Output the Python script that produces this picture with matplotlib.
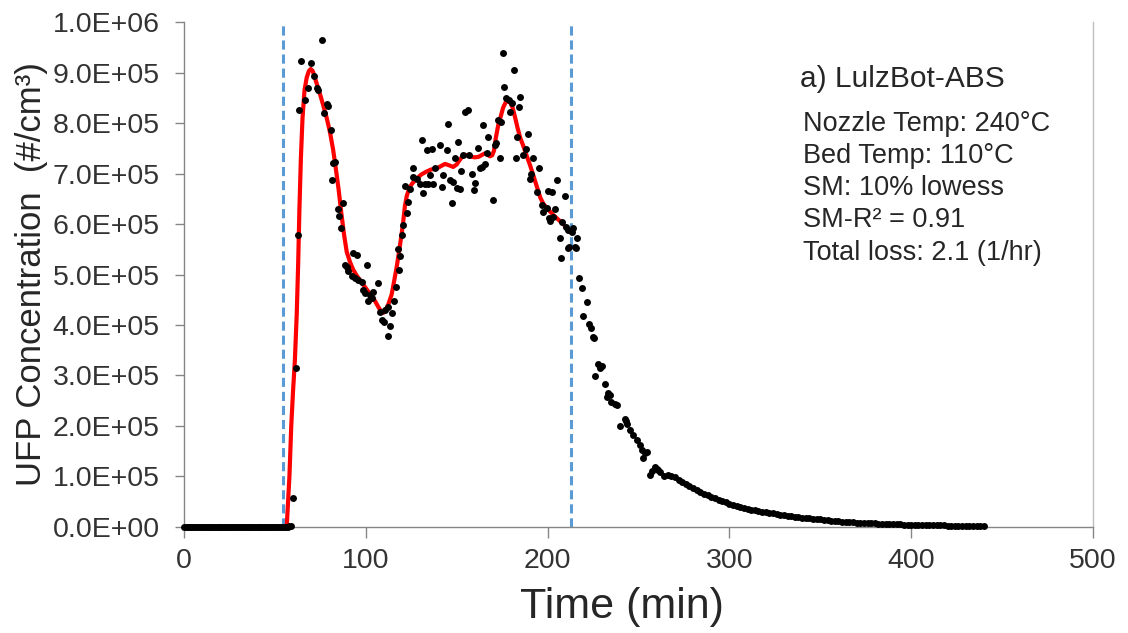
import numpy as np
import matplotlib
matplotlib.use('Agg')
import matplotlib.pyplot as plt
from matplotlib.ticker import FuncFormatter

plt.rcParams['font.family'] = ['Liberation Sans', 'DejaVu Sans']

# measured UFP concentration (units of 1e5 #/cm3) vs time (min)
base_t = [0, 1, 2, 3, 4, 5, 6, 7, 8, 9, 10, 11, 12, 13, 14, 15, 16, 17, 18, 19,
          20, 21, 22, 23, 24, 25, 26, 27, 28, 29, 30, 31, 32, 33, 34, 35, 36, 37, 38, 39,
          40, 41, 42, 43, 44, 45, 46, 47, 48, 49, 50, 51, 52, 53, 54, 55, 56, 57, 58, 59]
base_c = [0, 0, 0, 0, 0, 0, 0, 0, 0, 0, 0, 0, 0, 0, 0, 0, 0, 0, 0, 0,
          0, 0, 0, 0, 0, 0, 0, 0, 0, 0, 0, 0, 0, 0, 0, 0, 0, 0, 0, 0,
          0, 0, 0, 0, 0, 0, 0, 0, 0, 0, 0, 0, 0, 0, 0, 0, 0, 0, 0.01, 0.02]

print_t = [60.1, 61.4, 62.5, 63.4, 64.4, 66.6, 68.0, 69.7, 71.7, 73.0, 73.9, 75.7, 77.0, 78.5,
           79.4, 80.7, 81.6, 82.1, 83.0, 84.5, 85.4, 86.4, 87.6, 88.6, 89.5, 90.4, 92.2, 93.1,
           94.0, 95.0, 95.9, 97.7, 98.6, 99.6, 100.8, 101.4, 102.3, 103.2, 104.1, 106.9, 107.8,
           108.7, 110.2, 110.6, 112.0, 112.4, 113.3, 114.2, 115.7, 116.5, 117.5, 118.4, 118.8,
           120.0, 120.7, 121.6, 122.5, 123.4, 124.3, 125.8, 126.2, 128.0, 129.8, 130.7, 131.6,
           132.6, 133.5, 134.4, 135.3, 136.2, 137.1, 138.1, 140.8, 141.7, 142.6, 144.5, 145.4,
           146.3, 147.2, 148.1, 149.1, 150.0, 150.9, 151.8, 152.4, 153.6, 154.6, 156.4, 156.9,
           158.2, 159.5, 160.1, 161.9, 162.8, 163.7, 164.3, 165.6, 166.5, 167.4, 169.8, 171.0,
           171.6, 172.9, 173.8, 174.3, 175.6, 176.1, 177.1, 179.0, 179.5, 180.3, 181.7, 182.6,
           183.3, 184.4, 184.8, 186.6, 188.1, 189.4, 190.3, 190.9, 192.1, 194.0, 195.4, 196.8,
           197.7, 199.5, 200.4, 200.9, 201.3, 202.3, 203.1, 204.1, 205.3, 206.8, 207.2, 207.8,
           209.6, 210.1, 211.0, 211.4, 212.0, 213.3, 214.2, 215.1, 215.6, 216.2]
print_c = [0.57, 3.14, 5.78, 8.25, 9.23, 8.45, 8.70, 9.19, 8.94, 8.70, 8.65, 9.65, 8.19, 8.38,
           8.34, 7.87, 6.87, 7.21, 7.23, 6.29, 6.16, 5.93, 6.41, 5.19, 5.15, 5.06, 4.97, 5.42,
           4.94, 5.39, 4.89, 4.86, 4.69, 4.63, 5.19, 4.48, 4.59, 4.53, 4.66, 4.83, 4.26,
           4.10, 4.05, 4.30, 3.79, 4.35, 3.98, 4.23, 4.48, 4.76, 5.50, 5.09, 5.37,
           5.78, 5.98, 6.76, 6.21, 6.44, 6.69, 7.10, 6.94, 6.90, 6.80, 7.66, 6.61,
           6.80, 7.47, 6.79, 6.97, 7.48, 6.79, 7.10, 7.56, 6.74, 6.97, 7.47, 7.99,
           6.87, 6.41, 6.84, 7.30, 6.71, 7.63, 6.69, 7.04, 7.37, 8.22, 8.26, 7.37,
           6.99, 6.67, 6.81, 7.50, 7.10, 7.13, 7.97, 7.19, 7.40, 7.72, 6.48, 7.56,
           7.61, 8.06, 7.30, 8.03, 9.39, 8.72, 8.49, 8.46, 8.22, 8.40, 9.05, 7.30,
           7.73, 8.32, 8.52, 7.37, 7.48, 7.78, 6.90, 7.00, 7.30, 6.64, 7.10, 6.38,
           6.24, 6.31, 6.65, 6.11, 6.05, 6.64, 6.14, 6.29, 6.88, 5.72, 5.32, 6.03,
           6.56, 5.95, 5.52, 5.89, 5.55, 5.85, 5.92, 5.54, 5.52, 5.72]

decay_t = [217.5, 218.7, 219.6, 221.5, 222.9, 223.6, 224.8, 225.7, 226.1, 227.9, 228.8, 229.7,
           231.6, 232.5, 233.4, 234.3, 235.1, 237.1, 238.3, 239.8, 242.6, 243.1, 243.9, 245.3,
           247.2, 249.0, 250.8, 251.7, 252.6, 253.6, 254.5, 256.3, 257.5, 259.1, 260.0, 260.9,
           262, 264, 266, 268, 270, 272, 274, 276, 278, 280, 282, 284, 286, 288, 290, 292,
           294, 296, 298, 300, 302, 304, 306, 308, 310, 312, 314, 316, 318, 320, 322, 324,
           326, 328, 330, 332, 334, 336, 338, 340, 342, 344, 346, 348, 350, 352, 354, 356,
           358, 360, 362, 364, 366, 368, 370, 372, 374, 376, 378, 380, 382, 384, 386, 388,
           390, 392, 394, 396, 398, 400, 402, 404, 406, 408, 410, 412, 414, 416, 418, 420,
           422, 424, 426, 428, 430, 432, 434, 436, 438, 440]
decay_c = [4.94, 4.73, 4.18, 4.46, 4.02, 3.95, 3.77, 3.74, 2.98, 3.23, 3.14, 3.19,
           2.83, 2.58, 2.65, 2.61, 2.48, 2.44, 2.41, 1.99, 2.13, 2.09, 2.03, 1.92,
           1.82, 1.72, 1.62, 1.52, 1.36, 1.46, 1.49, 1.03, 1.10, 1.18, 1.15, 1.13,
           1.08, 1.01, 1.02, 1.00, 0.98, 0.94, 0.90, 0.85, 0.81, 0.77, 0.73, 0.70, 0.66, 0.63, 0.60, 0.57,
           0.54, 0.51, 0.49, 0.46, 0.44, 0.42, 0.40, 0.38, 0.36, 0.34, 0.33, 0.31, 0.30, 0.29, 0.28, 0.27,
           0.25, 0.24, 0.23, 0.22, 0.21, 0.20, 0.19, 0.18, 0.17, 0.18, 0.16, 0.15, 0.15, 0.14, 0.13, 0.12,
           0.11, 0.11, 0.10, 0.10, 0.09, 0.09, 0.08, 0.08, 0.08, 0.07, 0.07, 0.07, 0.06, 0.06, 0.06, 0.05,
           0.05, 0.05, 0.05, 0.04, 0.04, 0.04, 0.04, 0.04, 0.03, 0.03, 0.03, 0.03, 0.03, 0.03, 0.03, 0.02,
           0.02, 0.02, 0.02, 0.02, 0.02, 0.02, 0.02, 0.02, 0.02, 0.02]

# 10% lowess smooth
sm_t = [56.5, 58, 59, 60, 61, 62, 62.8, 63.5, 64.3, 65.2, 66.3, 67.5, 68.7, 69.7, 70.8, 72,
        73.5, 75, 76.6, 78.5, 80.3, 82, 83.5, 85, 86.6, 88, 89.5, 91.3, 93, 95, 97, 99, 101,
        103.2, 105, 107, 108.5, 109.7, 111, 112.5, 114.2, 115.5, 117, 118.5, 119.7, 120.6,
        121.5, 122.5, 124, 125.5, 128, 130.5, 133.5, 136, 139, 141.5, 143.6, 146, 148.1, 150,
        151.5, 153, 154.6, 156.5, 158.2, 160, 162, 164, 165.6, 167, 168.3, 169.5, 170.5, 171.5,
        172.8, 174, 175.5, 176.8, 178.2, 179.5, 180.8, 182, 183.5, 185, 186.6, 188.5, 190.3,
        192, 194, 196, 197.7, 200, 203.1, 205.5, 208.6, 210.5, 212.3]
sm_c = [0, 1.0, 2.0, 2.7, 3.3, 4.2, 5.2, 6.3, 7.3, 8.1, 8.65, 8.9, 9.03, 9.07, 9.03, 8.9,
        8.72, 8.55, 8.35, 8.1, 7.82, 7.48, 7.1, 6.7, 6.2, 5.8, 5.45, 5.25, 5.1, 4.98, 4.88, 4.78, 4.68,
        4.58, 4.48, 4.35, 4.27, 4.24, 4.3, 4.42, 4.6, 4.85, 5.15, 5.5, 5.8, 6.05,
        6.35, 6.55, 6.72, 6.8, 6.9, 6.98, 7.04, 7.08, 7.1, 7.15, 7.19, 7.16, 7.13, 7.18,
        7.26, 7.33, 7.37, 7.35, 7.33, 7.32, 7.33, 7.37, 7.40, 7.37, 7.34, 7.36, 7.45, 7.7,
        7.95, 8.1, 8.3, 8.4, 8.44, 8.4, 8.3, 8.13, 7.9, 7.7, 7.55, 7.35, 7.17,
        6.98, 6.75, 6.52, 6.4, 6.3, 6.18, 6.1, 6.0, 5.92, 5.85]

print_start = 54.3
print_end = 212.6

info_lines = ['Nozzle Temp: 240\u00b0C', 'Bed Temp: 110\u00b0C', 'SM: 10% lowess',
              'SM-R\u00b2 = 0.91', 'Total loss: 2.1 (1/hr)']

fig = plt.figure(figsize=(11.28, 6.33), dpi=100)
ax = fig.add_axes([0.1631, 0.1675, 0.8059, 0.7977])

spine_col = '#868686'
ax.axvline(print_start, color='#5B9BD5', lw=2.2, dashes=(3.0, 1.6), zorder=1)
ax.axvline(print_end, color='#5B9BD5', lw=2.2, dashes=(3.0, 1.6), zorder=1)
ax.plot(sm_t, np.array(sm_c) * 1e5, color='#FF0000', lw=3.0, zorder=2)

all_t = base_t + print_t + decay_t
all_c = np.array(base_c + print_c + decay_c) * 1e5
ax.plot(all_t, all_c, 'o', color='black', ms=5.0, mew=0, zorder=3, clip_on=False)

ax.set_xlim(0, 500)
ax.set_ylim(0, 1e6)
ax.set_xticks([0, 100, 200, 300, 400, 500])
ax.set_yticks(np.arange(0, 1.05e6, 1e5))
ax.yaxis.set_major_formatter(FuncFormatter(lambda v, p: format(v, '.1E')))

ax.spines['top'].set_visible(False)
for s in ['left', 'bottom']:
    ax.spines[s].set_color(spine_col)
    ax.spines[s].set_linewidth(1.0)
ax.spines['right'].set_color('#BFBFBF')
ax.spines['right'].set_linewidth(1.0)

ax.tick_params(axis='x', direction='out', length=8, width=1.0, color=spine_col,
               labelsize=20.5, labelcolor='#333333', pad=7)
ax.tick_params(axis='y', direction='out', length=6.5, width=1.0, color=spine_col,
               labelsize=20.5, labelcolor='#333333', pad=11)

ax.set_xlabel('Time (min)', fontsize=31, color='#262626', va='center')
ax.xaxis.set_label_coords(0.482, -0.158)
ax.set_ylabel('UFP Concentration  (#/cm\u00b3)', fontsize=25, color='#262626', va='center')
ax.yaxis.set_label_coords(-0.168, 0.5)

ax.text(338.8, 8.72e5, 'a) LulzBot-ABS', fontsize=21.5, color='#262626', va='baseline')
info_y = [7.85e5, 7.21e5, 6.57e5, 5.95e5, 5.29e5]
for yy, line in zip(info_y, info_lines):
    ax.text(340.5, yy, line, fontsize=19.5, color='#262626', va='baseline')

fig.savefig('out.png', dpi=100)
